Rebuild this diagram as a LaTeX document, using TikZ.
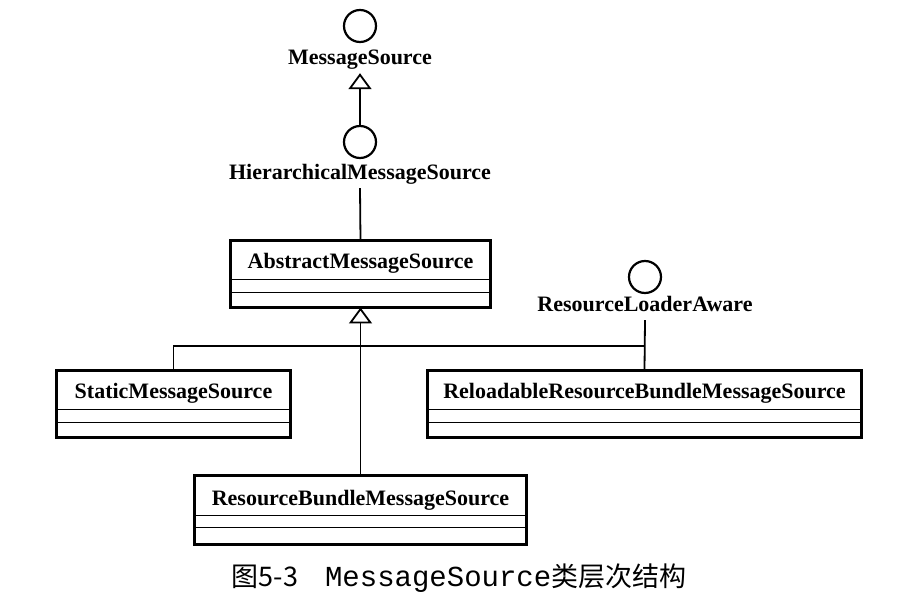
\documentclass[tikz,border=0pt]{standalone}
\usepackage{fontspec}
\setmainfont{Liberation Serif}
\newfontfamily\cjkfont{Noto Sans CJK SC}
\newfontfamily\monofont{Liberation Mono}
\usetikzlibrary{arrows.meta}
\begin{document}
\begin{tikzpicture}[x=1pt,y=-1pt,
  lbl/.style={font=\bfseries\fontsize{22}{26}\selectfont, inner sep=0pt, text height=15pt, text depth=8pt, anchor=base},
  cls/.style={draw, line width=2.8pt, inner sep=0pt, outer sep=0pt},
  divline/.style={line width=1.4pt},
  iface/.style={circle, draw, line width=2.2pt, minimum size=32pt, inner sep=0pt, outer sep=0pt},
  conn/.style={line width=1.8pt},
  realize/.style={conn, -{Triangle[open, length=16pt, width=23pt]}}
]
\useasboundingbox (0,0) rectangle (922,612);
\fill[white] (0,0) rectangle (922,612);

% interfaces
\node[iface] (msC) at (360,26) {};
\node[lbl] (msL) at (360,65) {MessageSource};
\node[iface] (hmsC) at (360,142) {};
\node[lbl] (hmsL) at (360,180) {HierarchicalMessageSource};
\node[iface] (rlaC) at (645,277) {};
\node[lbl] (rlaL) at (645,312) {ResourceLoaderAware};

% classes
\node[cls, minimum width=260pt, minimum height=67pt] (ams) at (360.5,274) {};
\node[lbl] (amsL) at (360.5,269) {AbstractMessageSource};
\draw[divline] ([yshift=-39pt]ams.north west) -- ([yshift=-39pt]ams.north east);
\draw[divline] ([yshift=-52pt]ams.north west) -- ([yshift=-52pt]ams.north east);

\node[cls, minimum width=234pt, minimum height=67pt] (sms) at (173.5,404) {};
\node[lbl] (smsL) at (173.5,399) {StaticMessageSource};
\draw[divline] ([yshift=-39pt]sms.north west) -- ([yshift=-39pt]sms.north east);
\draw[divline] ([yshift=-52pt]sms.north west) -- ([yshift=-52pt]sms.north east);

\node[cls, minimum width=434pt, minimum height=67pt] (rrbms) at (644.5,404) {};
\node[lbl] (rrbmsL) at (644.5,399) {ReloadableResourceBundleMessageSource};
\draw[divline] ([yshift=-39pt]rrbms.north west) -- ([yshift=-39pt]rrbms.north east);
\draw[divline] ([yshift=-52pt]rrbms.north west) -- ([yshift=-52pt]rrbms.north east);

\node[cls, minimum width=332pt, minimum height=69pt] (rbms) at (360.5,510) {};
\node[lbl] (rbmsL) at (360.5,505) {ResourceBundleMessageSource};
\draw[divline] ([yshift=-40pt]rbms.north west) -- ([yshift=-40pt]rbms.north east);
\draw[divline] ([yshift=-52pt]rbms.north west) -- ([yshift=-52pt]rbms.north east);

% connectors
\draw[realize] (hmsC.north) -- (msL.south);
\draw[conn] (hmsL.south) -- (ams.north);
\coordinate (bus) at (360.5,346);
\draw[conn] (sms.north) |- (bus) -| (rrbms.north);
\draw[conn] (rlaL.south) -- (rrbms.north);
\draw[realize] (rbms.north) -- (ams.south);

% caption
\node (cap) at (459,578) {\cjkfont\fontsize{27}{30}\selectfont 图5-3\hspace{27pt}{\monofont\fontsize{29}{30}\selectfont MessageSource}类层次结构};
\end{tikzpicture}
\end{document}
